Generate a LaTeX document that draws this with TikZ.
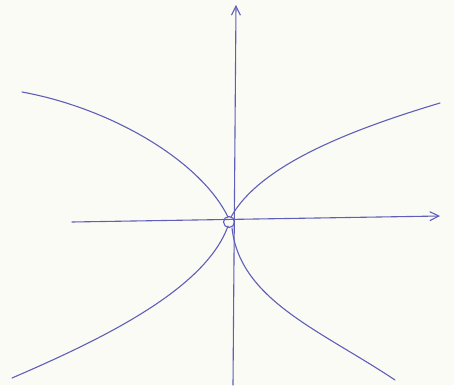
\documentclass[tikz,border=0pt]{standalone}
\usetikzlibrary{arrows.meta}
\definecolor{ink}{RGB}{95,95,185}
\definecolor{paper}{RGB}{251,251,246}
\begin{document}
\begin{tikzpicture}[x=1pt,y=-1pt,
  pen/.style={draw=ink,line width=1.1pt,line cap=round},
  axisarrow/.style={pen,-{Straight Barb[length=9pt,width=9pt]}}]
\fill[paper] (0,0) rectangle (454,385);
\useasboundingbox (0,0) rectangle (454,385);
\coordinate (ybot) at (233,385);
\coordinate (ytop) at (236,5);
\coordinate (xl) at (72,222);
\coordinate (xr) at (440,216);
\node[draw=ink,line width=1.1pt,circle,minimum size=11pt,inner sep=0pt] (o) at (229,222) {};
\draw[axisarrow] (ybot) -- (ytop);
\draw[axisarrow] (xl) -- (xr);
% upper-left branch
\draw[pen] (22,92) .. controls (110,108) and (200,160) .. (228,217);
% upper-right branch
\draw[pen] (231,217) .. controls (260,165) and (350,130) .. (440,103);
% lower-left branch
\draw[pen] (228,226) .. controls (205,290) and (100,340) .. (12,378);
% lower-right branch
\draw[pen] (232,228) .. controls (240,300) and (320,330) .. (395,380);
\end{tikzpicture}
\end{document}
